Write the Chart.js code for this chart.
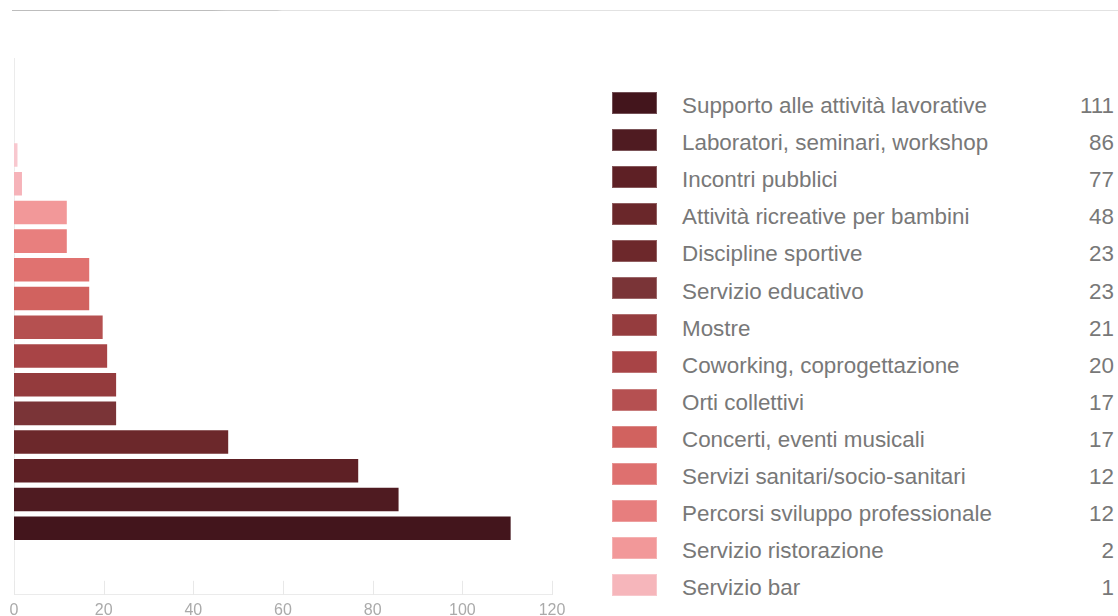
<!DOCTYPE html>
<html>
<head>
<meta charset="utf-8">
<script src="https://cdn.jsdelivr.net/npm/chart.js@4"></script>
<style>
  html, body { margin: 0; padding: 0; background: #fff; width: 1118px; height: 616px; overflow: hidden; }
  body { position: relative; font-family: "Liberation Sans", Arial, sans-serif; }
  .top-rule {
    position: absolute; left: 12px; right: 0; top: 10px; height: 1px;
    background: linear-gradient(to right, #bdbdbd 0, #bdbdbd 200px, #cdcdcd 215px, #cdcdcd 265px, #e2e2e2 270px, #e2e2e2 100%);
  }
  .chart-box { position: absolute; left: 0; top: 0; width: 600px; height: 640px; }
  #legend { position: absolute; left: 612px; top: 84.5px; width: 506px; }
  .row { position: relative; height: 37.1px; }
  .swatch { position: absolute; left: 0; top: 7.3px; width: 45px; height: 22px; box-shadow: inset 0 0 0 1px rgba(255,255,255,.25); }
  .lbl, .val { position: absolute; top: 10.6px; font-size: 22.4px; line-height: 22px; color: #787878; white-space: nowrap; }
  .lbl { left: 70px; }
  .val { right: 4px; }
</style>
</head>
<body>
<div class="top-rule"></div>
<div class="chart-box"><canvas id="bars"></canvas></div>
<div id="legend"></div>

<script>
// categories, bottom bar first
const categories = [
  'Supporto alle attività lavorative',
  'Laboratori, seminari, workshop',
  'Incontri pubblici',
  'Attività ricreative per bambini',
  'Discipline sportive',
  'Servizio educativo',
  'Mostre',
  'Coworking, coprogettazione',
  'Orti collettivi',
  'Concerti, eventi musicali',
  'Servizi sanitari/socio-sanitari',
  'Percorsi sviluppo professionale',
  'Servizio ristorazione',
  'Servizio bar'
];
const counts = [111, 86, 77, 48, 23, 23, 21, 20, 17, 17, 12, 12, 2, 1];

// legend swatch colours
const legendColors = [
  '#43151c', '#4f1b21', '#5e2025', '#6a272a', '#6d282b', '#7a3437', '#953c3e',
  '#a84446', '#b55051', '#d1625f', '#de706f', '#e77e7e', '#f29899', '#f6b6bb'
];
// bar colours as drawn (shifted by one from the 5th bar up)
const barColors = [
  '#43151c', '#4f1b21', '#5e2025', '#6c282b', '#7a3437', '#943b3d', '#a84446',
  '#b55050', '#d1625f', '#e07270', '#e87f7e', '#f29899', '#f6b3b9', '#f8c8cf'
];
const xTicks = [0, 20, 40, 60, 80, 100, 120];

// legend
const legend = document.getElementById('legend');
categories.forEach((name, i) => {
  const row = document.createElement('div');
  row.className = 'row';
  row.innerHTML = `<span class="swatch" style="background:${legendColors[i]}"></span>
    <span class="lbl">${name}</span><span class="val">${counts[i]}</span>`;
  legend.appendChild(row);
});

// short tick marks drawn inside the plot, above the x axis line
const innerTicks = {
  id: 'innerTicks',
  afterDatasetsDraw(chart) {
    const { ctx, chartArea, scales: { x } } = chart;
    ctx.save();
    ctx.strokeStyle = '#e8e8e8';
    ctx.lineWidth = 1;
    xTicks.forEach(v => {
      const px = Math.round(x.getPixelForValue(v)) + 0.5;
      ctx.beginPath();
      ctx.moveTo(px, chartArea.bottom - 14);
      ctx.lineTo(px, chartArea.bottom);
      ctx.stroke();
    });
    ctx.restore();
  }
};

new Chart(document.getElementById('bars'), {
  type: 'bar',
  data: {
    datasets: [{
      data: counts.map((v, i) => ({ x: v, y: i })),
      backgroundColor: barColors,
      borderColor: 'rgba(255,255,255,.3)',
      borderWidth: 1,
      categoryPercentage: 1,
      barPercentage: 0.89
    }]
  },
  options: {
    indexAxis: 'y',
    responsive: true,
    maintainAspectRatio: false,
    animation: false,
    layout: { padding: { left: 14, right: 48, top: 58, bottom: 14 } },
    plugins: { legend: { display: false }, tooltip: { enabled: false } },
    scales: {
      x: {
        type: 'linear', min: 0, max: 120,
        afterBuildTicks: s => { s.ticks = xTicks.map(v => ({ value: v })); },
        grid: { display: false, drawTicks: false },
        border: { display: true, color: '#ebebeb', width: 1 },
        ticks: { color: '#aaa', padding: 6, font: { family: 'Liberation Sans', size: 16 } }
      },
      y: {
        type: 'linear', min: -2.32, max: 16.38, offset: false,
        afterFit: s => { s.width = 0; },
        grid: { display: false, drawTicks: false },
        border: { display: true, color: '#ebebeb', width: 1 },
        ticks: { display: false }
      }
    }
  },
  plugins: [innerTicks]
});
</script>
</body>
</html>
